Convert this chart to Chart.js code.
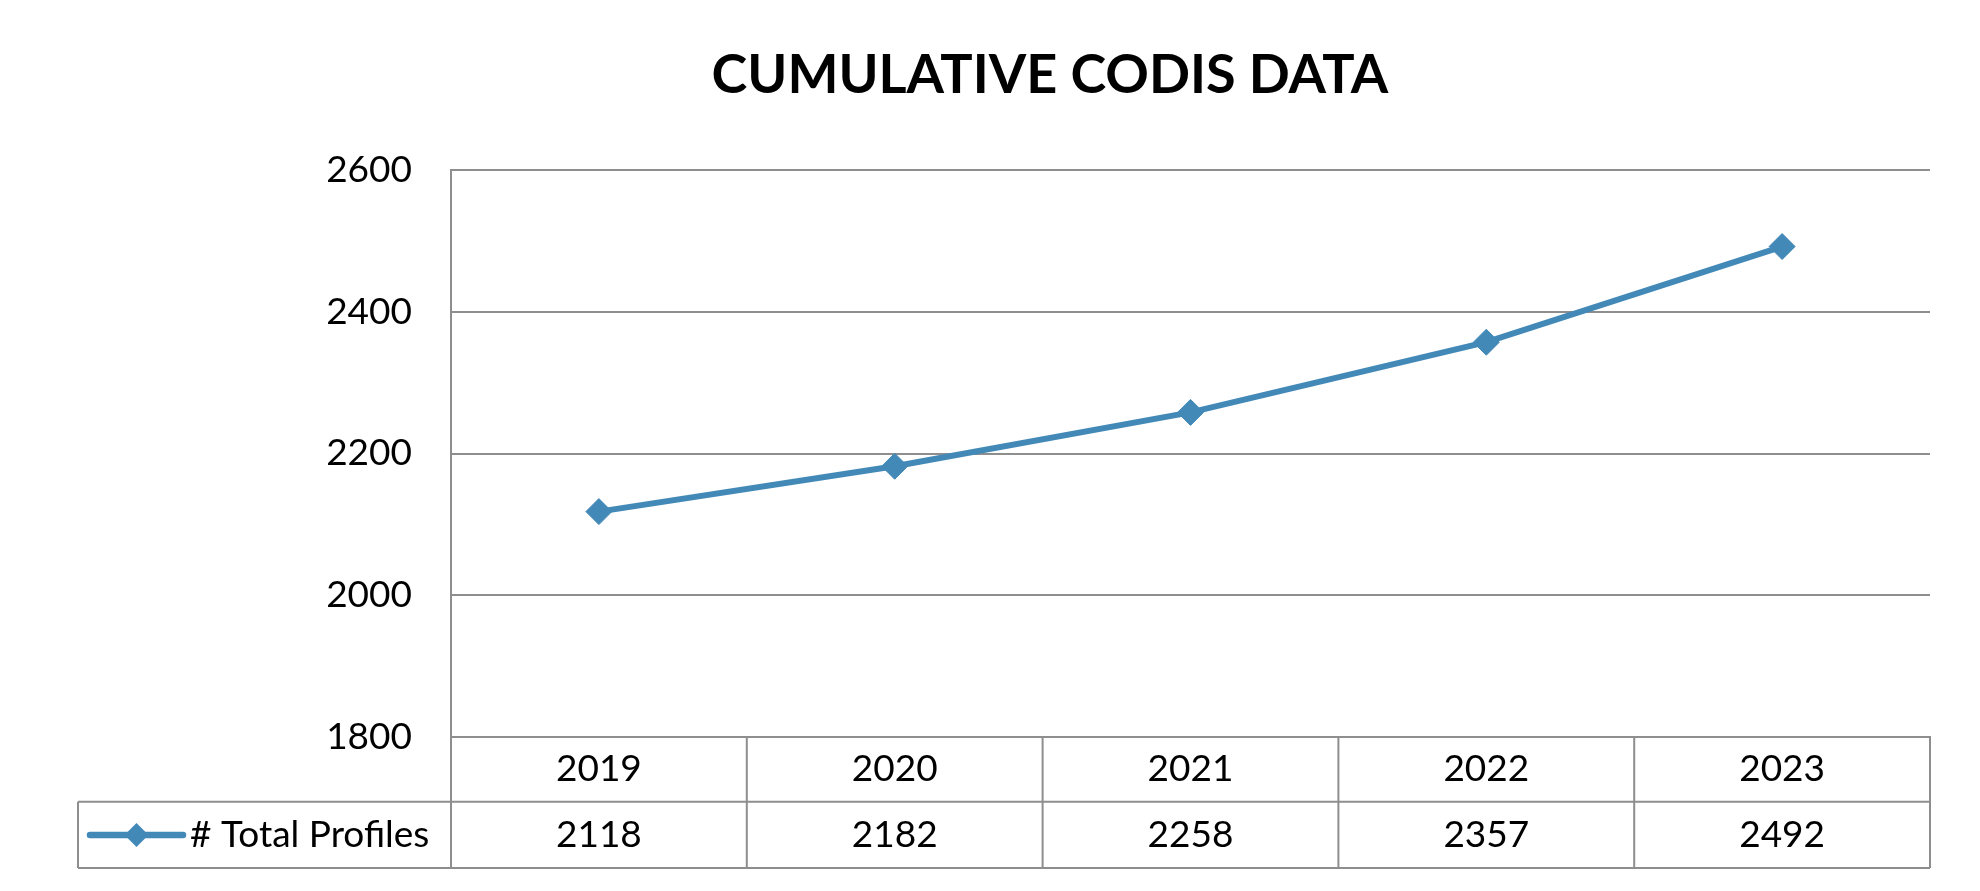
<!DOCTYPE html>
<html>
<head>
<meta charset="utf-8">
<script src="https://cdn.jsdelivr.net/npm/chart.js@4/dist/chart.umd.min.js"></script>
<style>
  html, body { margin: 0; padding: 0; background: #fff; }
  #wrap { width: 1980px; height: 891px; }
</style>
</head>
<body>
<div id="wrap"><canvas id="codisChart" width="1980" height="891"></canvas></div>
<script>
// Chart data
const chartTitle = 'CUMULATIVE CODIS DATA';
const years = ['2019', '2020', '2021', '2022', '2023'];
const seriesName = '# Total Profiles';
const totalProfiles = [2118, 2182, 2258, 2357, 2492];
const yTicks = [1800, 2000, 2200, 2400, 2600];

const lineColor = '#4389B8';
const gridColor = '#8E8E8E';
const fontFamily = 'Lato, "Noto Sans", sans-serif';
const textSize = 37;

// Title + Excel-style data table below the x axis
const tablePlugin = {
    id: 'dataTable',
    afterDraw(chart) {
        const ctx = chart.ctx;
        const xScale = chart.scales.x;
        const area = chart.chartArea;
        const rowTop = area.bottom;
        const rowBottom = xScale.bottom;
        const rowMid = rowTop + (rowBottom - rowTop) * 0.495;
        const legendLeft = 78;
        const colW = (xScale.right - xScale.left) / years.length;

        ctx.save();
        // title
        ctx.fillStyle = '#000';
        ctx.font = 'bold 54px ' + fontFamily;
        ctx.textAlign = 'center';
        ctx.textBaseline = 'middle';
        ctx.fillText(chartTitle, 1050, 76);

        // table lines
        ctx.strokeStyle = gridColor;
        ctx.lineWidth = 2;
        ctx.beginPath();
        ctx.moveTo(legendLeft, rowMid);
        ctx.lineTo(xScale.right, rowMid);
        ctx.moveTo(legendLeft, rowBottom);
        ctx.lineTo(xScale.right, rowBottom);
        ctx.moveTo(legendLeft, rowMid);
        ctx.lineTo(legendLeft, rowBottom);
        for (let i = 0; i <= years.length; i++) {
            const x = xScale.left + colW * i;
            ctx.moveTo(x, rowTop);
            ctx.lineTo(x, rowBottom);
        }
        ctx.stroke();

        // values row
        ctx.fillStyle = '#000';
        ctx.font = textSize + 'px ' + fontFamily;
        ctx.textAlign = 'center';
        ctx.textBaseline = 'middle';
        const valY = (rowMid + rowBottom) / 2;
        totalProfiles.forEach((v, i) => {
            ctx.fillText(String(v), xScale.getPixelForValue(i), valY);
        });

        // legend key
        ctx.strokeStyle = lineColor;
        ctx.lineWidth = 6.5;
        ctx.lineCap = 'round';
        ctx.beginPath();
        ctx.moveTo(90, valY);
        ctx.lineTo(183, valY);
        ctx.stroke();
        ctx.fillStyle = lineColor;
        ctx.beginPath();
        ctx.moveTo(136.5 - 12, valY);
        ctx.lineTo(136.5, valY - 12);
        ctx.lineTo(136.5 + 12, valY);
        ctx.lineTo(136.5, valY + 12);
        ctx.closePath();
        ctx.fill();

        ctx.fillStyle = '#000';
        ctx.textAlign = 'left';
        ctx.fillText(seriesName, 190, valY);
        ctx.restore();
    }
};

const ctx = document.getElementById('codisChart').getContext('2d');
const codisChart = new Chart(ctx, {
    type: 'line',
    data: {
        labels: years,
        datasets: [{
            label: seriesName,
            data: totalProfiles,
            borderColor: lineColor,
            backgroundColor: lineColor,
            borderWidth: 6,
            pointStyle: 'rectRot',
            pointRadius: 13,
            pointBorderWidth: 1,
            pointBackgroundColor: lineColor,
            pointBorderColor: lineColor,
            tension: 0
        }]
    },
    options: {
        responsive: false,
        animation: false,
        layout: {
            padding: { top: 170, right: 50, bottom: 23, left: 0 }
        },
        plugins: {
            legend: { display: false },
            title: { display: false },
            tooltip: { enabled: false }
        },
        scales: {
            x: {
                offset: true,
                afterFit: function(scale) { scale.height = 131; },
                grid: { display: false, drawTicks: false },
                border: { display: true, color: gridColor, width: 2 },
                ticks: {
                    padding: 10,
                    color: '#000',
                    font: { family: fontFamily, size: textSize }
                }
            },
            y: {
                min: yTicks[0],
                max: yTicks[yTicks.length - 1],
                afterFit: function(scale) { scale.width = 451; },
                afterBuildTicks: function(scale) {
                    scale.ticks = yTicks.map(v => ({ value: v }));
                },
                grid: { color: gridColor, lineWidth: 2, drawTicks: false },
                border: { display: true, color: gridColor, width: 2 },
                ticks: {
                    padding: 39,
                    color: '#000',
                    font: { family: fontFamily, size: textSize },
                    callback: function(value) { return String(value); }
                }
            }
        }
    },
    plugins: [tablePlugin]
});
</script>
</body>
</html>
